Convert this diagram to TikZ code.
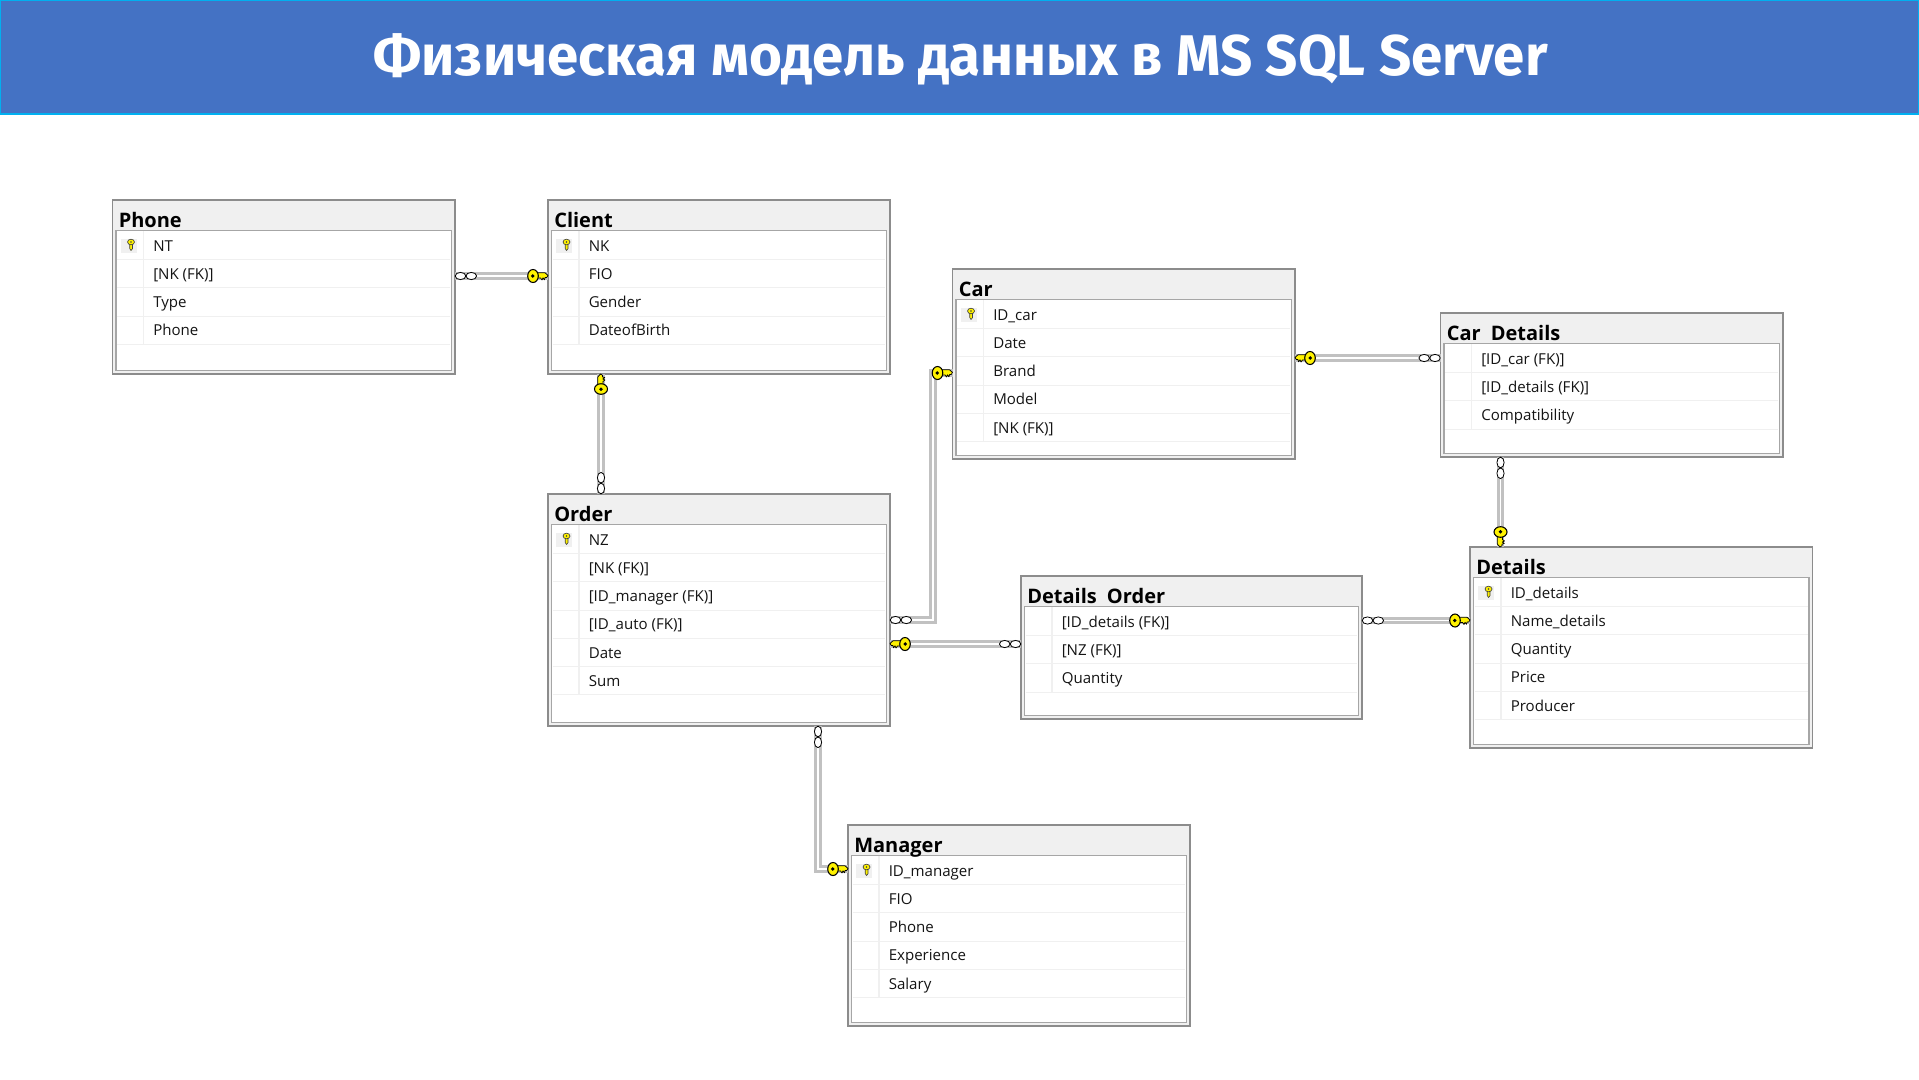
\documentclass[tikz,border=0pt]{standalone}
\usepackage{fontspec}
\setmainfont{Open Sans}
\newfontfamily\bannerfont{Fira Sans}
\usetikzlibrary{calc}
\definecolor{bannerblue}{HTML}{4472C4}
\definecolor{bannerline}{HTML}{00B0F0}
\definecolor{headbg}{HTML}{F0F0F0}
\definecolor{frameout}{HTML}{8C8C8C}
\definecolor{framein}{HTML}{A6A6A6}
\definecolor{rowline}{HTML}{F0F0F0}
\definecolor{keyyellow}{HTML}{FFF200}
\tikzset{
  tableframe/.style={draw=frameout,line width=1.3pt,fill=headbg,inner sep=0pt,outer sep=0pt,rectangle,anchor=north west},
  innerframe/.style={draw=framein,line width=1pt,fill=white},
  rowsep/.style={draw=rowline,line width=0.8pt},
  tabletitle/.style={anchor=base west,inner sep=0pt,font=\bfseries\fontsize{15}{15}\selectfont,text=black},
  rowtext/.style={anchor=base west,inner sep=0pt,font=\fontsize{11.3}{12}\selectfont,text=black!92},
  conn/.style={preaction={draw=frameout,line width=0.9pt,transform canvas={shift={(0.5pt,-0.5pt)}}},
     draw=framein!70,line width=2.5pt,double=white,double distance=0.8pt,line join=miter},
  keyicon/.pic={
    \path[draw=black,line width=0.55pt,fill=keyyellow,line join=round]
      (11,-3.2) -- (3,-3.2) -- (0,-0.6) -- (1.2,1.4) -- (2.8,1.4) -- (3.6,3.8) -- (5,1.8) -- (6,4) -- (7.4,2) -- (11,2) -- cycle;
    \path[draw=black,line width=0.8pt,fill=keyyellow] (15,0) ellipse [x radius=5.3,y radius=6.5];
    \fill[black] (15.3,0) circle [radius=1.9];
  },
  minikey/.pic={
    \path[draw=black!75,line width=0.45pt,fill=keyyellow,line join=round]
      (-1.3,-3) -- (-1.3,3) -- (0,5) -- (1.5,3.2) -- (1.5,-3) -- cycle;
    \path[draw=black!75,line width=0.5pt,fill=keyyellow] (0,-3.5) ellipse [x radius=3.5,y radius=2.8];
    \fill[black!75] (0,-3.5) circle [radius=0.8];
  },
  rings/.pic={
    \path[draw=black,line width=0.6pt,fill=white] (5.5,0) ellipse [x radius=5.3,y radius=3.6];
    \path[draw=black,line width=0.6pt,fill=white] (16.3,0) ellipse [x radius=5.3,y radius=3.6];
  }
}
% name, x1, y1, x2, y2, title, rows (text/pk)
\newcommand{\erdtable}[7]{%
  \pgfmathsetmacro{\tw}{(#4-#2)*0.75}%
  \pgfmathsetmacro{\th}{(#5-#3)*0.75}%
  \node[tableframe,minimum width=\tw pt,minimum height=\th pt] (#1) at (#2,#3) {};
  \path[innerframe] (#2+3.5,#3+30.5) rectangle (#4-3.5,#5-3.5);
  \node[tabletitle] (#1-title) at (#2+6,#3+27.5) {#6};
  \foreach \txt/\pk [count=\i] in {#7} {
    \pgfmathsetmacro{\yc}{#3+45.5+(\i-1)*28.25}
    \draw[rowsep] (#2+4.5,\yc+14.1) -- (#4-5,\yc+14.1);
    \draw[rowsep] (#2+31,\yc-14.1) -- (#2+31,\yc+14.1);
    \ifnum\pk=1
      \fill[headbg] (#2+8,\yc-7) rectangle (#2+24,\yc+7);
      \pic at (#2+18.5,\yc) {minikey};
    \fi
    \node[rowtext] (#1-r\i) at (#2+40.5,\yc+5.5) {\txt};
  }
}
\begin{document}
\begin{tikzpicture}[x=0.75pt,y=-0.75pt]
\useasboundingbox (0,0) rectangle (1919,1079);
\fill[white] (0,0) rectangle (1919,1079);
\path[fill=bannerblue,draw=bannerline,line width=1.1pt] (0.7,0.7) rectangle (1918.3,114);
\node[inner sep=0pt,anchor=base,text=white,xscale=0.984,font=\bannerfont\bfseries\fontsize{43}{43}\selectfont] (banner) at (960.5,75.7) {Физическая модель данных в MS SQL Server};

\erdtable{phone}{112.5}{200}{455}{374}{Phone}{NT/1,{[NK (FK)]}/0,Type/0,Phone/0}
\erdtable{client}{548}{200}{890}{374}{Client}{NK/1,FIO/0,Gender/0,DateofBirth/0}
\erdtable{car}{952.5}{269}{1295}{459}{Car}{ID\_car/1,Date/0,Brand/0,Model/0,{[NK (FK)]}/0}
\erdtable{cardetails}{1440.5}{313}{1783}{457}{Car\hspace{0.25em} Details}{{[ID\_car (FK)]}/0,{[ID\_details (FK)]}/0,Compatibility/0}
\erdtable{details}{1470}{547}{1812.5}{748}{Details}{ID\_details/1,Name\_details/0,Quantity/0,Price/0,Producer/0}
\erdtable{detorder}{1021}{576}{1362}{719}{Details\hspace{0.25em} Order}{{[ID\_details (FK)]}/0,{[NZ (FK)]}/0,Quantity/0}
\erdtable{order}{548}{494}{890}{726}{Order}{NZ/1,{[NK (FK)]}/0,{[ID\_manager (FK)]}/0,{[ID\_auto (FK)]}/0,Date/0,Sum/0}
\erdtable{manager}{848}{825}{1190}{1026}{Manager}{ID\_manager/1,FIO/0,Phone/0,Experience/0,Salary/0}

% routing coordinates
\coordinate (yphone) at (0,276);
\coordinate (xorderclient) at (601,0);
\coordinate (ycar) at (0,373);
\coordinate (yorderleft) at (0,620);
\coordinate (xcarbus) at (933,0);
\coordinate (yorderdet) at (0,644);
\coordinate (ycardet) at (0,358);
\coordinate (xcddet) at (1500.5,0);
\coordinate (ydet) at (0,620.5);
\coordinate (xmgr) at (818,0);
\coordinate (ymgr) at (0,869);

% connectors
\draw[conn] (phone.east |- yphone) -- (client.west |- yphone);
\draw[conn] (xorderclient |- client.south) -- (xorderclient |- order.north);
\draw[conn] (order.east |- yorderleft) -| (xcarbus |- ycar) -- (car.west |- ycar);
\draw[conn] (order.east |- yorderdet) -- (detorder.west |- yorderdet);
\draw[conn] (car.east |- ycardet) -- (cardetails.west |- ycardet);
\draw[conn] (xcddet |- cardetails.south) -- (xcddet |- details.north);
\draw[conn] (detorder.east |- ydet) -- (details.west |- ydet);
\draw[conn] (xmgr |- order.south) |- (manager.west |- ymgr);

% end marks
\pic at (phone.east |- yphone) {rings};
\pic[xscale=-1] at (client.west |- yphone) {keyicon};
\pic[rotate=-90,yscale=-1] at (xorderclient |- client.south) {keyicon};
\pic[rotate=90] at (xorderclient |- order.north) {rings};
\pic at (order.east |- yorderleft) {rings};
\pic[xscale=-1] at (car.west |- ycar) {keyicon};
\pic at (order.east |- yorderdet) {keyicon};
\pic[xscale=-1] at (detorder.west |- yorderdet) {rings};
\pic at (car.east |- ycardet) {keyicon};
\pic[xscale=-1] at (cardetails.west |- ycardet) {rings};
\pic[rotate=-90] at (xcddet |- cardetails.south) {rings};
\pic[rotate=90] at (xcddet |- details.north) {keyicon};
\pic at (detorder.east |- ydet) {rings};
\pic[xscale=-1] at (details.west |- ydet) {keyicon};
\pic[rotate=-90] at (xmgr |- order.south) {rings};
\pic[xscale=-1] at (manager.west |- ymgr) {keyicon};
\end{tikzpicture}
\end{document}
